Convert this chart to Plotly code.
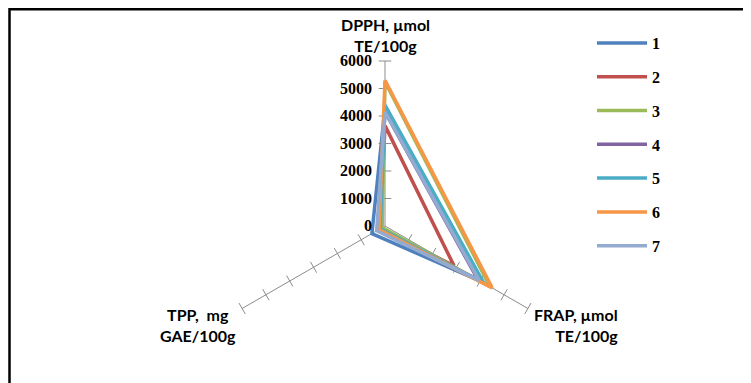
import plotly.graph_objects as go

# ---- data ----
axes_labels = ["DPPH", "FRAP", "TPP"]
series_names = ["1", "2", "3", "4", "5", "6", "7"]
dpph = [4300, 3650, 5250, 4150, 4400, 5300, 4150]
frap = [4050, 2900, 4400, 3900, 4150, 4500, 3950]
tpp = [550, 200, 120, 300, 200, 250, 350]
colors = ["#4F81BD", "#C0504D", "#9BBB59", "#8064A2", "#4BACC6", "#F79646", "#93ABD0"]
radial_ticks = [0, 1000, 2000, 3000, 4000, 5000, 6000]
axis_titles = ["DPPH, µmol<br>TE/100g", "FRAP, µmol<br>TE/100g", "TPP,  mg<br>GAE/100g"]

W, H = 751, 383
R = 165
cx, cy = 377, H - R

fig = go.Figure()

# tick marks crossing each spoke
tick_r, tick_t, tick_a = [], [], []
tick_angles = {"DPPH": 0, "FRAP": 120, "TPP": 60}
for cat in axes_labels:
    for v in radial_ticks[1:]:
        tick_r.append(v)
        tick_t.append(cat)
        tick_a.append(tick_angles[cat])
fig.add_trace(go.Scatterpolar(
    r=tick_r, theta=tick_t, mode="markers", cliponaxis=False,
    marker=dict(symbol="line-ew", size=9, angle=tick_a,
                line=dict(color="#8C8C8C", width=1)),
    showlegend=False, hoverinfo="skip"))

for i, name in enumerate(series_names):
    vals = [dpph[i], frap[i], tpp[i]]
    fig.add_trace(go.Scatterpolar(
        r=vals + [vals[0]], theta=axes_labels + [axes_labels[0]],
        mode="lines", name=name, legendgroup=name, cliponaxis=False,
        line=dict(color=colors[i], width=3.5)))

fig.update_layout(
    width=W, height=H,
    margin=dict(l=0, r=0, t=0, b=0),
    paper_bgcolor="white",
    showlegend=True,
    polar=dict(
        domain=dict(x=[(cx - R) / W, (cx + R) / W], y=[0, 2 * R / H]),
        bgcolor="white",
        angularaxis=dict(type="category", categoryarray=axes_labels,
                         direction="clockwise", rotation=90,
                         showticklabels=False, ticks="", showline=False,
                         showgrid=True, gridcolor="#8C8C8C", gridwidth=1),
        radialaxis=dict(range=[0, 6000], tickvals=radial_ticks, angle=90,
                        tickangle=90, showline=False, showgrid=False,
                        ticks="outside", ticklen=7, tickcolor="rgba(0,0,0,0)",
                        side="counterclockwise",
                        tickfont=dict(family="Liberation Serif", size=16,
                                      color="black", weight="bold")),
    ),
    legend=dict(x=584 / W, y=1 - 18 / H, xanchor="left", yanchor="top",
                tracegroupgap=10, itemwidth=50, bgcolor="rgba(0,0,0,0)",
                font=dict(family="Liberation Serif", size=16, color="black",
                          weight="bold")),
)

lab_font = dict(family="Lato", size=16, color="black", weight="bold")
fig.add_annotation(x=cx / W, y=1 - (cy - R - 4) / H, xref="paper", yref="paper",
                   text=axis_titles[0], showarrow=False, xanchor="center",
                   yanchor="bottom", align="center", font=lab_font)
fig.add_annotation(x=(cx + 0.866 * R + 4) / W, y=1 - (cy + R / 2 - 6) / H,
                   xref="paper", yref="paper", text=axis_titles[1],
                   showarrow=False, xanchor="left", yanchor="top",
                   align="right", font=lab_font)
fig.add_annotation(x=(cx - 0.866 * R - 4) / W, y=1 - (cy + R / 2 - 6) / H,
                   xref="paper", yref="paper", text=axis_titles[2],
                   showarrow=False, xanchor="right", yanchor="top",
                   align="center", font=lab_font)

fig.add_shape(type="rect", xref="paper", yref="paper",
              x0=0.002, x1=0.998, y0=-0.1, y1=0.997,
              line=dict(color="black", width=2.5), fillcolor="rgba(0,0,0,0)")

fig.write_html("out.html")
